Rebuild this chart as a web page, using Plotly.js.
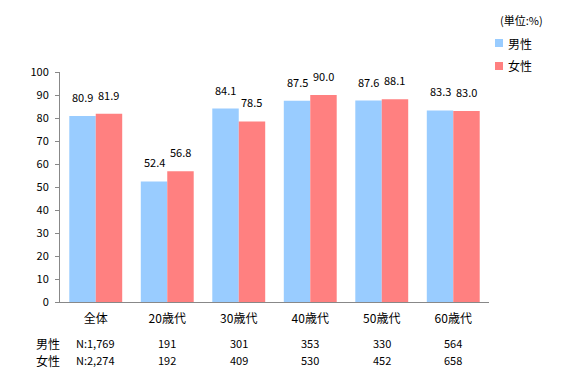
<!DOCTYPE html>
<html><head><meta charset="utf-8">
<script src="https://cdn.plot.ly/plotly-3.0.1.min.js"></script>
<style>body{margin:0;background:#fff}#c{width:566px;height:384px}</style>
</head><body><div id="c"></div>
<script>
const categories = ['全体','20歳代','30歳代','40歳代','50歳代','60歳代'];
const male = [80.9, 52.4, 84.1, 87.5, 87.6, 83.3];
const female = [81.9, 56.8, 78.5, 90.0, 88.1, 83.0];
const maleN = ['N:1,769','191','301','353','330','564'];
const femaleN = ['N:2,274','192','409','530','452','658'];
const seriesNames = ['男性','女性'];
const colors = ['#99CCFF','#FF8080'];

const font = "'Noto Sans CJK JP', 'Noto Sans', sans-serif";
const traces = [
  {type:'bar', name:seriesNames[0], x:categories, y:male, marker:{color:colors[0]}, hoverinfo:'none'},
  {type:'bar', name:seriesNames[1], x:categories, y:female, marker:{color:colors[1]}, hoverinfo:'none'}
];
const M = {l:60, r:77, t:72, b:82};
const plotH = 384-M.t-M.b, plotW = 566-M.l-M.r;
const py = px => (384-M.b-px)/plotH;
const pxX = px => (px-M.l)/plotW;
const annotations = [];
const shapes = [];
// data labels
[male, female].forEach((arr, s)=>{
  arr.forEach((v,i)=>{
    annotations.push({x:categories[i], xref:'x', y:v, yref:'y', yanchor:'bottom', yshift:9, xshift:(s===0?-13:13),
      text:v.toFixed(1), showarrow:false, font:{size:11,color:'#000'}});
  });
});
// N rows
categories.forEach((c,i)=>{
  annotations.push({x:c, xref:'x', y:py(343), yref:'paper', yanchor:'middle', text:maleN[i], showarrow:false, font:{size:11,color:'#000'}});
  annotations.push({x:c, xref:'x', y:py(360), yref:'paper', yanchor:'middle', text:femaleN[i], showarrow:false, font:{size:11,color:'#000'}});
});
annotations.push({x:pxX(48), xref:'paper', xanchor:'center', y:py(343), yref:'paper', yanchor:'middle', text:seriesNames[0], showarrow:false, font:{size:12}});
annotations.push({x:pxX(48), xref:'paper', xanchor:'center', y:py(360), yref:'paper', yanchor:'middle', text:seriesNames[1], showarrow:false, font:{size:12}});
annotations.push({x:pxX(521), xref:'paper', xanchor:'center', y:py(20), yref:'paper', yanchor:'middle', text:'(単位:%)', showarrow:false, font:{size:11}});
// manual legend
const legY = [43, 66];
seriesNames.forEach((n,s)=>{
  shapes.push({type:'rect', xref:'paper', yref:'paper', x0:pxX(495), x1:pxX(503), y0:py(legY[s]+4), y1:py(legY[s]-4), fillcolor:colors[s], line:{width:0}});
  annotations.push({x:pxX(506), xref:'paper', xanchor:'left', y:py(legY[s]), yref:'paper', yanchor:'middle', text:n, showarrow:false, font:{size:12}});
});
const layout = {
  width:566, height:384, margin:M,
  font:{family:font, size:11, color:'#000'},
  paper_bgcolor:'#fff', plot_bgcolor:'#fff',
  barmode:'group', bargap:0.26, bargroupgap:0,
  showlegend:false,
  xaxis:{showline:true, linecolor:'#888', linewidth:1, ticks:'', tickfont:{size:12}, showgrid:false, fixedrange:true, ticklabelstandoff:6},
  yaxis:{range:[0,100], dtick:10, showline:true, linecolor:'#888', linewidth:1, ticks:'outside', ticklen:4, tickcolor:'#888',
         showgrid:false, zeroline:false, tickfont:{size:11}, fixedrange:true, ticklabelstandoff:4},
  annotations, shapes
};
Plotly.newPlot('c', traces, layout, {displayModeBar:false, staticPlot:true});
</script></body></html>
